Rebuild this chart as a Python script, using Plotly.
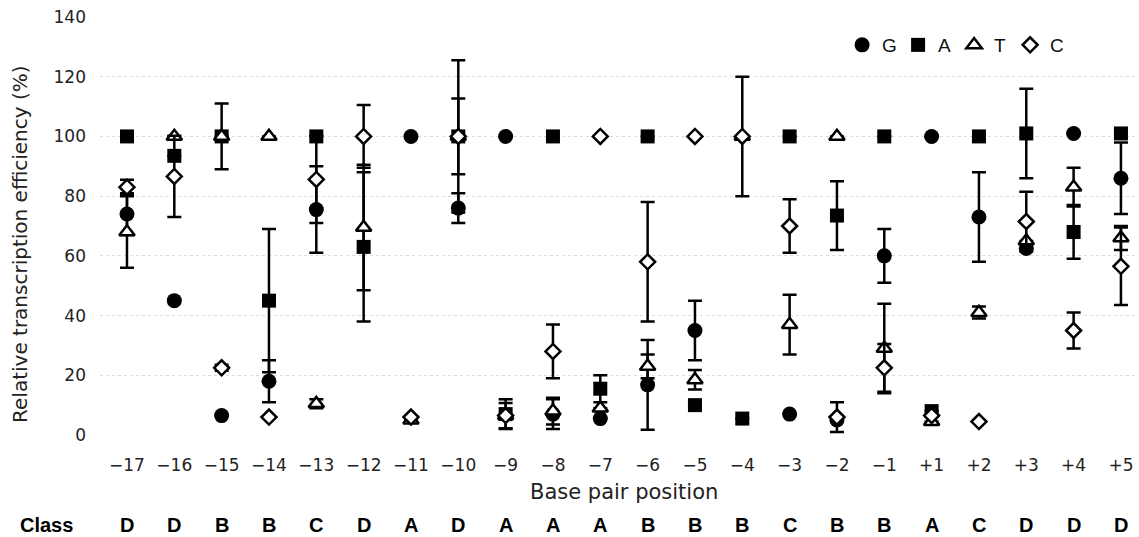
import plotly.graph_objects as go

positions = ["\u221217", "\u221216", "\u221215", "\u221214", "\u221213", "\u221212", "\u221211",
             "\u221210", "\u22129", "\u22128", "\u22127", "\u22126", "\u22125", "\u22124",
             "\u22123", "\u22122", "\u22121", "+1", "+2", "+3", "+4", "+5"]
classes = ["D", "D", "B", "B", "C", "D", "A", "D", "A", "A", "A",
           "B", "B", "B", "C", "B", "B", "A", "C", "D", "D", "D"]

g_vals = [74, 45, 6.5, 18, 75.5, None, 100, 76, 100, 7, 5.5, 16.8, 35, None, 7, 5, 60, 100, 73, 62.5, 101, 86]
g_err = [7, 0, 0, 7, 14.5, 0, 0, 5, 0, 5, 0, 15, 10, 0, 0, 0, 9, 0, 15, 0, 0, 12]

a_vals = [100, 93.5, 100, 45, 100, 63, None, 100, 7, 100, 15.5, 100, 10, 5.5, 100, 73.5, 100, 8, 100, 101, 68, 101]
a_err = [0, 0, 11, 24, 0, 25, 0, 0, 5, 0, 4.5, 0, 0, 0, 0, 11.5, 0, 0, 0, 15, 9, 0]

t_vals = [68, 100, 100, 100, 10.5, 69.5, 5, 100, 6.5, 8, 9, 23, 18.5, 100, 37, 100, 29, 4.5, 41, 65, 83, 66]
t_err = [12, 0, 0, 0, 1.5, 21, 0, 12.7, 4.2, 4.5, 0, 4, 3.3, 0, 10, 0, 15, 0, 2, 0, 6.5, 4]

c_vals = [83, 86.6, 22.5, 6, 85.6, 100, 6, 100, 6.5, 28, 100, 58, 100, 100, 70, 6, 22.5, 6.5, 4.5, 71.5, 35, 56.5]
c_err = [2.5, 13.6, 1, 0, 14.6, 10.5, 0, 25.5, 0, 9, 0, 20, 0, 20, 9, 5, 8, 0, 0, 10, 6, 13]

y_ticks = [0, 20, 40, 60, 80, 100, 120, 140]

series = [
    ("G", g_vals, g_err, "circle", 15, "black", 0),
    ("A", a_vals, a_err, "square", 14, "black", 0),
    ("T", t_vals, t_err, "triangle-up", 13.5, "white", 2.5),
    ("C", c_vals, c_err, "diamond", 11.5, "white", 2.5),
]

fig = go.Figure()
for name, vals, errs, sym, size, fill, lw in series:
    fig.add_trace(go.Scatter(
        x=positions, y=vals, name=name, mode="markers",
        marker=dict(symbol=sym, size=size, color=fill,
                    line=dict(color="black", width=lw)),
        error_y=dict(type="data", array=errs, symmetric=True,
                     color="black", thickness=2.5, width=7),
        cliponaxis=False,
    ))

tick_font = dict(family="DejaVu Sans", size=17, color="#222222")

fig.update_layout(
    width=1139, height=537,
    margin=dict(l=100, r=4, t=17, b=102),
    paper_bgcolor="white", plot_bgcolor="white",
    showlegend=True,
    legend=dict(orientation="h", x=0.717, xanchor="left", y=0.933, yanchor="middle",
                font=dict(family="Liberation Sans", size=19, color="#111111"),
                entrywidth=11, entrywidthmode="pixels",
                bgcolor="rgba(0,0,0,0)", itemwidth=30),
    xaxis=dict(type="category", categoryorder="array", categoryarray=positions,
               range=[-0.57, 21.297], showgrid=False, zeroline=False, showline=False,
               ticks="", tickfont=tick_font, ticklabelstandoff=18),
    yaxis=dict(range=[0, 140], tickvals=y_ticks, showgrid=True, gridcolor="#dcdcdc",
               griddash="dot", gridwidth=1, zeroline=False, showline=False,
               ticks="", tickfont=tick_font, ticklabelstandoff=13),
)

annotations = []
for i, cl in enumerate(classes):
    annotations.append(dict(x=i, xref="x", y=-0.215, yref="paper", text=cl,
                            showarrow=False, xanchor="center", yanchor="middle",
                            font=dict(family="Liberation Sans", size=20, color="black", weight="bold")))
annotations.append(dict(x=-0.0792, xref="paper", y=-0.215, yref="paper", text="Class",
                        showarrow=False, xanchor="left", yanchor="middle",
                        font=dict(family="Liberation Sans", size=20, color="black", weight="bold")))
annotations.append(dict(x=10.5, xref="x", y=-0.137, yref="paper", text="Base pair position",
                        showarrow=False, xanchor="center", yanchor="middle",
                        font=dict(family="DejaVu Sans", size=21, color="#222222")))
annotations.append(dict(x=-0.0773, xref="paper", y=0.457, yref="paper",
                        text="Relative transcription efficiency (%)", textangle=-90,
                        showarrow=False, xanchor="center", yanchor="middle",
                        font=dict(family="DejaVu Sans", size=20, color="#222222")))
fig.update_layout(annotations=annotations)

fig.write_html("out.html", config={"displayModeBar": False},
               post_script="document.body.style.margin='0';document.body.style.overflow='hidden';")
